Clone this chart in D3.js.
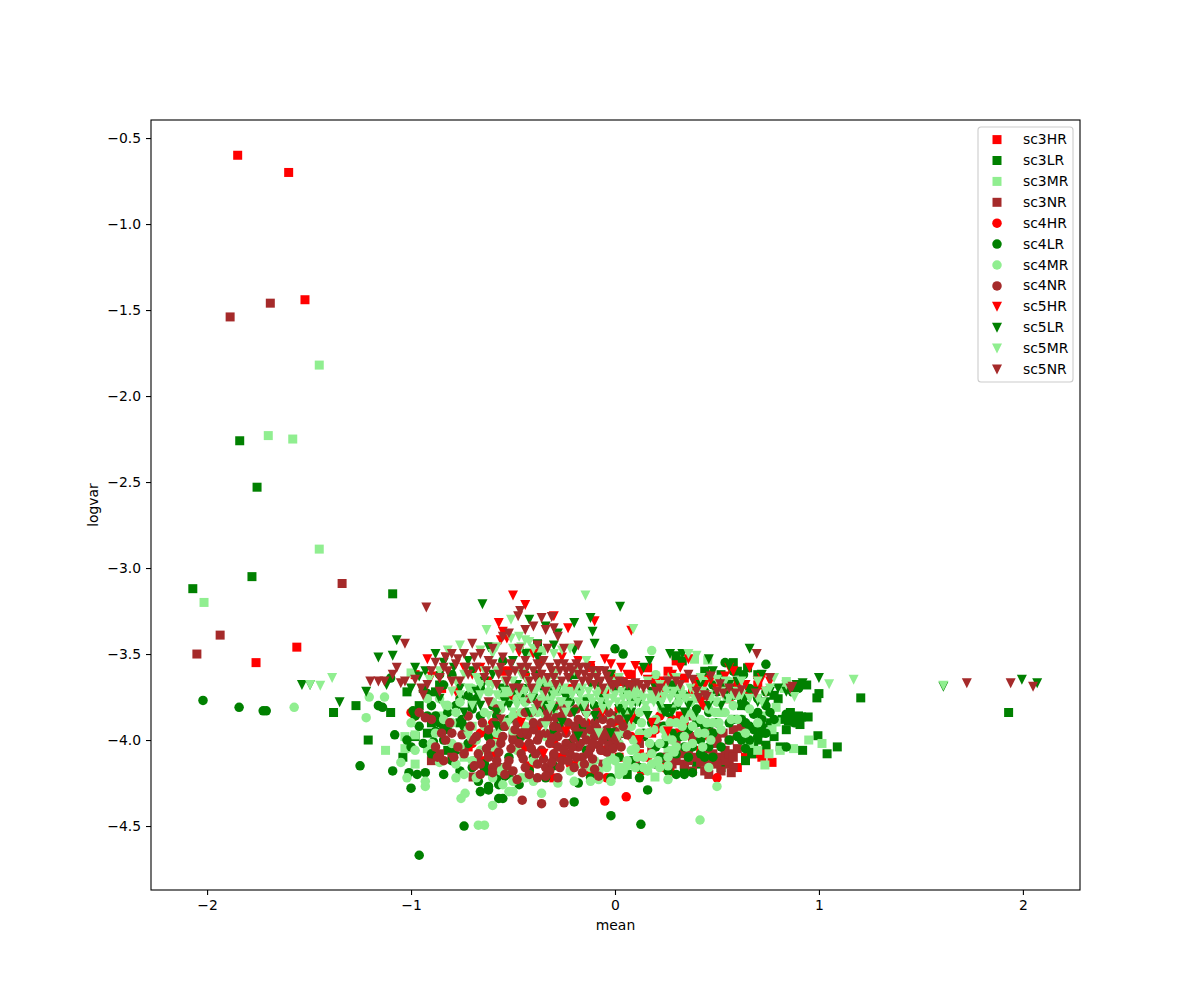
<!DOCTYPE html>
<html>
<head>
<meta charset="utf-8">
<script src="https://cdn.jsdelivr.net/npm/d3@7"></script>
<style>
  body { margin: 0; background: #fff; }
  text { font-family: "DejaVu Sans", sans-serif; }
</style>
</head>
<body>
<script>
// [mean, logvar] pairs
var sc3HR = [[-1.85,-0.60],[-1.60,-0.70],[-1.52,-1.44],[-1.56,-3.46],[-1.76,-3.55],
  [-0.98,-3.62],[-0.85,-3.70],[-0.72,-4.04],[-0.66,-4.12],[-0.55,-3.60],[-0.48,-3.86],[-0.42,-4.15],[-0.38,-3.62],[-0.30,-4.22],[-0.22,-3.70],
  [-0.12,-3.58],[-0.05,-3.72],[0.02,-4.10],[0.08,-3.62],[0.16,-3.58],[0.22,-3.70],[0.27,-4.18],[0.30,-3.54],[0.34,-3.64],[0.38,-3.72],[0.42,-4.06],
  [0.46,-3.62],[0.50,-3.70],[0.55,-4.12],[0.60,-4.16],[0.64,-4.10],[0.68,-4.08],[0.72,-4.10],[0.77,-4.13],[0.74,-4.05],[0.56,-3.76],[0.66,-3.72],[0.12,-4.08],[-0.18,-4.12],[-0.62,-3.94],
  [0.10,-3.68],[0.04,-3.66],[-0.02,-3.62],[0.20,-3.66],[0.26,-3.60],[0.40,-3.68],[0.44,-3.74],[0.60,-3.66],[0.70,-3.68],[0.04,-3.88],[0.18,-3.96],[0.32,-3.86],[-0.26,-4.10],[-0.58,-4.00]];
var sc3LR = [[-1.84,-2.26],[-1.755,-2.53],[-1.78,-3.05],[-2.07,-3.12],[-1.09,-3.15],[1.205,-3.755],[1.93,-3.84],[1.09,-4.04],[1.04,-4.08],[-1.21,-4.00],[-1.27,-3.80],[-1.38,-3.84],[-1.10,-3.84],
  [0.99,-3.755],[1.0,-3.73],[0.915,-3.866],[0.947,-3.866],[0.907,-3.91],[0.88,-3.87],[0.995,-3.975],[0.92,-4.06],[0.30,-3.51],[0.33,-3.54],[0.65,-3.58],[0.58,-3.55],[0.85,-3.89],[0.81,-4.04],[0.74,-4.03],[0.70,-4.00],[0.67,-4.08],[0.90,-3.68],[0.94,-3.68],[0.76,-3.90],[0.78,-3.74],
  [-1.02,-3.72],[-0.96,-3.80],[-0.92,-3.96],[-1.04,-4.10],[-0.86,-3.68],[-0.82,-4.06],[-0.76,-3.90],[-0.70,-3.78],[-0.64,-4.18],[-0.55,-3.92],[-0.52,-4.20],[-0.45,-3.70],[-0.30,-3.95],[-0.20,-3.62],[-0.10,-4.18],[0.0,-3.86],[0.06,-4.20],[0.14,-3.98],[0.24,-4.12],[0.28,-3.70],[0.40,-4.14],[0.46,-3.94],[0.52,-4.16],[0.58,-3.88],[0.62,-3.80],[0.34,-4.17],[-0.38,-3.44],
  [0.72,-3.96],[0.78,-3.98],[0.84,-3.94],[0.90,-3.86],[0.86,-3.84],[0.82,-3.88],[0.68,-4.04],[0.64,-4.12],[0.44,-3.60],[0.52,-3.62],[0.60,-3.60],[0.70,-3.62],[0.80,-3.76],[-0.98,-3.98],[-0.94,-3.70],[-0.90,-3.90],[-0.88,-3.72],[-0.84,-3.94]];
var sc3MR = [[-1.45,-1.82],[-1.70,-2.23],[-1.58,-2.25],[-1.45,-2.89],[-2.015,-3.20],[-1.125,-4.06],[-1.0,-3.61],[-0.98,-3.97],[-0.92,-4.05],[-1.03,-3.98],[-1.03,-4.05],[-0.98,-4.14],
  [0.95,-4.00],[1.015,-4.02],[0.81,-4.06],[0.875,-4.05],[0.755,-4.08],[0.735,-4.145],[0.70,-4.06],[0.79,-3.81],[0.77,-3.94],[0.79,-3.895],[0.84,-3.66],[0.196,-4.215],[0.455,-3.535],[0.39,-3.53],[0.60,-3.95],[0.66,-4.02],[0.55,-3.70],[0.72,-3.86],[0.83,-3.70],[0.62,-3.88],
  [-0.42,-3.49],[-0.36,-3.48],[-0.30,-3.62],[-0.46,-3.58],[-0.70,-3.92],[-0.60,-4.02],[-0.52,-3.76],[-0.86,-3.86],[-0.74,-4.10],[-0.12,-3.96],[0.02,-4.16],[0.12,-3.76],[0.26,-4.06],[0.48,-4.10],[0.52,-3.84]];
var sc3NR = [[-1.69,-1.46],[-1.887,-1.54],[-1.338,-3.09],[-1.936,-3.39],[-2.05,-3.50],[-0.696,-4.215],[-0.9,-4.12],[-0.86,-4.08],[-0.80,-4.10],[-0.74,-4.06],[-0.68,-4.12],[-0.62,-4.08],
  [0.05,-3.96],[0.12,-4.02],[0.18,-4.06],[0.24,-4.10],[0.26,-4.16],[0.30,-4.12],[0.34,-4.14],[0.36,-4.06],[0.38,-4.18],[0.40,-4.10],[0.42,-4.13],[0.44,-4.05],[0.46,-4.12],[0.48,-4.08],[0.50,-4.02],[0.52,-4.10],[0.54,-4.06],[0.56,-4.14],[0.58,-4.16],[0.44,-4.18],[0.34,-3.92],[0.42,-3.96],[0.50,-3.98],[0.56,-4.00],[0.60,-4.05],[0.30,-4.00],[0.22,-3.92],[0.36,-3.86],[0.10,-4.14],[-0.08,-4.20],[-0.30,-4.10],[-0.50,-3.98],[-0.56,-4.16],[0.62,-3.92],
  [0.52,-4.18],[0.54,-4.12],[0.56,-4.08],[0.58,-4.10],[0.57,-4.19],[0.32,-4.08],[0.28,-4.14],[0.36,-4.12],[0.47,-3.96],[0.53,-3.96],[0.58,-3.94],[0.44,-3.90],[0.38,-3.98],[0.32,-3.96],[0.46,-4.20],[0.50,-4.14],[-0.02,-3.86],[-0.06,-4.14]];
var sc4HR = [[-0.05,-4.355],[0.055,-4.33],[-1.0,-3.84],[-0.98,-3.86],[-0.7,-4.02],[-0.58,-4.08],[-0.50,-3.74],[-0.44,-4.04],[-0.38,-3.92],[-0.30,-4.02],[-0.22,-4.14],[-0.14,-3.90],[-0.06,-4.06],[0.02,-3.82],[0.08,-3.98],[0.16,-4.10],[0.22,-3.86],[0.30,-3.96],[0.34,-3.92],[0.38,-4.02],[0.44,-3.80],[0.50,-4.22],[0.46,-3.98],[0.24,-4.16],[-0.12,-4.20],
  [-0.04,-4.22],[0.00,-3.90],[0.10,-3.86],[0.20,-3.94],[0.28,-3.88],[0.32,-3.90],[0.36,-3.94],[0.13,-4.18],[-0.60,-3.90],[-0.66,-3.96]];
var sc4LR = [[-2.02,-3.77],[-1.843,-3.81],[-1.725,-3.83],[-1.71,-3.83],[-1.25,-4.15],[-0.96,-4.67],[-0.74,-4.50],[-0.02,-4.44],[0.127,-4.49],[-1.08,-3.97],[-1.1,-3.64],[-1.16,-3.80],[-1.14,-3.81],[-1.09,-4.18],[-1.0,-4.28],[-1.01,-4.19],[-0.97,-4.2],[-0.93,-4.19],[-0.89,-4.01],[-0.92,-3.73],[-0.99,-3.83],[-0.98,-3.86],[-1.02,-4.0],[-1.0,-4.04],
  [-0.66,-4.30],[-0.67,-4.24],[-0.62,-4.27],[-0.62,-4.29],[-0.57,-4.34],[-0.55,-4.34],[-0.54,-4.21],[-0.57,-4.26],[-0.60,-4.20],[-0.47,-4.26],[-0.20,-4.36],[-0.18,-4.25],[-0.12,-4.22],[-0.02,-4.22],[0.12,-4.22],[0.16,-4.29],[-0.55,-3.54],[0.0,-3.47],[0.04,-3.50],[0.54,-3.55],[0.74,-3.56],[0.63,-3.62],[0.58,-3.60],
  [-0.88,-3.95],[-0.82,-3.84],[-0.80,-4.12],[-0.75,-3.88],[-0.72,-4.02],[-0.68,-3.76],[-0.64,-4.14],[-0.58,-3.86],[-0.52,-4.10],[-0.48,-3.72],[-0.42,-4.18],[-0.36,-3.82],[-0.30,-4.15],[-0.22,-3.78],[-0.14,-4.06],[-0.08,-3.86],[0.02,-4.10],[0.08,-3.76],[0.14,-3.96],[0.20,-4.14],[0.26,-3.84],[0.30,-4.20],[0.34,-4.20],[0.32,-3.98],[0.38,-4.19],[0.36,-4.10],[0.40,-3.90],[0.44,-4.10],[0.48,-3.96],[0.52,-4.04],[0.56,-3.90],[0.60,-3.98],[0.64,-4.05],[0.68,-3.85],[0.74,-3.72],[0.70,-3.76],[0.66,-3.70],[0.62,-3.76],[0.72,-3.92],[0.66,-3.92],[0.78,-3.88],[0.84,-3.85],[0.88,-3.90],[0.84,-4.04],[0.90,-3.70],[0.87,-3.72],[0.50,-3.72],[0.54,-3.68],[0.58,-3.74],[0.46,-3.84],[0.56,-4.00],[0.62,-3.88],[0.42,-4.0],[0.30,-3.80],[0.24,-4.02],[0.18,-3.90],
  [0.20,-4.04],[0.22,-4.10],[0.24,-3.92],[0.26,-4.18],[0.28,-3.96],[0.30,-4.08],[0.34,-4.04],[0.36,-3.94],[0.38,-4.04],[0.42,-4.08],[0.44,-3.92],[0.46,-4.04],[0.48,-4.10],[0.50,-3.90],[0.62,-4.00],[0.64,-3.90],[0.66,-4.00],[0.68,-3.94],[0.70,-3.98],[0.72,-3.88],[0.74,-3.96],[0.76,-3.84],[0.74,-3.80],[0.70,-3.84],[0.64,-3.80],[0.58,-3.70],[0.52,-3.66],[0.48,-3.68],[0.44,-3.72],[0.40,-3.82],[0.08,-4.12],[0.10,-3.88],[0.12,-4.16],[0.04,-3.96],[-0.04,-4.00],[-0.10,-3.80],[-0.16,-3.92],[-0.22,-4.02],[-0.28,-3.90],[-0.34,-4.22],[-0.40,-4.10],[-0.46,-3.98],[-0.52,-3.88],[-0.58,-4.22],[-0.62,-3.98],[-0.66,-3.86],[-0.70,-4.16],[-0.74,-3.92],[-0.78,-4.06],[-0.82,-3.92],[-0.84,-4.00],[-0.86,-3.90],[-0.88,-3.86],[-0.90,-4.08],[-0.92,-3.86],[-0.94,-4.02],[-0.96,-3.92],[-0.84,-4.20],[-0.76,-4.18],[-0.70,-3.82],[-0.76,-3.76],[-0.84,-3.68],[-0.80,-3.62],[-0.66,-3.70],[-0.60,-3.80],[-0.54,-3.70],[-0.44,-3.62],[-0.86,-3.62],[-0.78,-3.80],[-0.72,-3.74],[-0.90,-3.80],[0.06,-3.72],[0.28,-3.68],[0.34,-3.74]];
var sc4MR = [[-1.573,-3.81],[-1.22,-3.87],[-1.205,-3.75],[0.417,-4.465],[-0.67,-4.495],[-0.64,-4.495],[-0.60,-4.38],[-0.755,-4.34],[-0.735,-4.31],[-1.05,-4.13],[-1.02,-4.22],[-0.93,-4.27],[-0.93,-4.24],[-1.13,-3.75],[-0.86,-4.13],[-1.0,-3.90],[-0.98,-4.06],[0.50,-4.27],[0.18,-3.48],[-0.12,-4.24],[-0.2,-4.24],[-0.28,-4.25],[-0.44,-4.22],[-0.40,-4.24],[-0.36,-4.31],[-0.55,-4.26],[-0.52,-4.30],[-0.50,-4.30],[0.26,-4.23],[-0.02,-4.24],[-0.08,-4.23],
  [-0.92,-3.76],[-0.84,-3.88],[-0.80,-4.02],[-0.76,-3.78],[-0.72,-3.94],[-0.70,-4.12],[-0.66,-3.66],[-0.64,-3.84],[-0.60,-4.04],[-0.56,-3.74],[-0.54,-4.16],[-0.50,-3.86],[-0.46,-3.70],[-0.44,-3.92],[-0.40,-4.12],[-0.36,-3.76],[-0.32,-3.68],[-0.26,-3.88],[-0.22,-4.18],[-0.16,-4.14],[-0.10,-4.12],[-0.04,-4.16],[-0.02,-3.88],[0.02,-4.02],[0.04,-3.80],[0.06,-4.12],[0.08,-3.92],[0.10,-4.05],[0.12,-3.84],[0.14,-4.16],[0.16,-3.96],[0.18,-4.08],[0.18,-3.76],[0.20,-3.88],[0.22,-4.02],[0.24,-3.68],[0.24,-3.94],[0.26,-4.10],[0.28,-3.82],[0.30,-3.90],[0.30,-4.04],[0.32,-3.70],[0.34,-3.98],[0.36,-3.84],[0.38,-3.92],[0.40,-3.76],[0.42,-3.88],[0.44,-3.66],[0.46,-3.82],[0.48,-3.90],[0.50,-3.78],[0.52,-3.94],[0.54,-3.84],[0.56,-3.66],[0.58,-3.80],[0.60,-3.88],[0.28,-3.62],[0.20,-3.62],[0.10,-3.70],[0.0,-3.66],[-0.06,-3.78],[-0.14,-3.76],[0.04,-4.18],[0.16,-4.18],[0.12,-3.96],[0.08,-4.06],[0.02,-3.94],[-0.02,-4.10],[0.28,-4.0],[0.34,-3.88],[0.38,-4.02],[0.44,-3.96],[0.66,-3.82],[0.70,-3.90],[0.64,-3.96],[0.60,-3.74],[0.46,-4.16],[-0.78,-4.14],[-0.82,-3.80],[-0.68,-4.22],[-0.58,-3.96],[-0.48,-4.06],[-0.34,-3.98],
  [0.03,-3.86],[0.05,-3.96],[0.07,-3.84],[0.09,-4.00],[0.11,-4.10],[0.13,-3.90],[0.15,-3.82],[0.17,-4.02],[0.19,-3.94],[0.21,-4.12],[0.23,-3.82],[0.25,-3.98],[0.27,-3.90],[0.29,-4.07],[0.31,-3.78],[0.33,-3.92],[0.35,-4.04],[0.37,-3.78],[0.39,-3.86],[0.41,-3.96],[0.43,-4.04],[0.45,-3.90],[0.47,-4.00],[0.49,-3.84],[0.51,-3.90],[0.55,-3.76],[0.57,-3.88],[0.06,-4.15],[0.10,-4.16],[0.14,-4.10],[0.18,-4.14],[0.22,-4.16],[0.26,-4.15],[-0.04,-4.13],[-0.08,-4.18],[-0.12,-4.16],[0.0,-4.12],[0.02,-4.20],[-0.60,-3.78],[-0.62,-3.72],[-0.56,-3.82],[-0.54,-3.90],[-0.52,-3.72],[-0.50,-3.95],[-0.48,-3.76],[-0.46,-3.84],[-0.44,-3.78],[-0.42,-3.86],[-0.40,-3.72],[-0.38,-3.84],[-0.36,-3.66],[-0.34,-3.86],[-0.32,-3.76],[-0.30,-3.84],[-0.28,-3.72],[-0.26,-3.80],[-0.24,-3.72],[-0.70,-3.70],[-0.72,-3.86],[-0.76,-4.04],[-0.78,-3.84],[-0.80,-3.90],[-0.86,-3.76],[-0.88,-3.96],[-0.90,-4.02],[-0.64,-3.92],[-0.66,-4.06],[-0.68,-4.00],[-0.74,-4.20],[-0.78,-4.22],[-0.60,-4.22],[-0.56,-4.18],[-0.50,-4.24],[-0.46,-4.22]];
var sc4NR = [[-0.455,-4.35],[-0.36,-4.37],[-0.25,-4.365],[-0.90,-3.88],[-0.88,-4.04],[-0.84,-4.12],[-0.80,-3.96],[-0.74,-4.08],[-0.72,-3.86],[-0.68,-3.98],[-0.66,-4.14],[-0.62,-3.94],[-0.62,-4.10],[-0.60,-4.16],[-0.58,-3.82],[-0.56,-4.02],[-0.54,-3.92],[-0.52,-4.12],[-0.50,-4.18],[-0.48,-3.90],[-0.46,-3.96],[-0.46,-4.08],[-0.44,-3.84],[-0.42,-4.02],[-0.40,-3.94],[-0.38,-4.00],[-0.38,-4.14],[-0.36,-3.90],[-0.36,-4.06],[-0.34,-3.96],[-0.34,-4.16],[-0.32,-4.02],[-0.30,-3.92],[-0.30,-4.08],[-0.28,-3.98],[-0.28,-4.04],[-0.26,-3.86],[-0.26,-4.12],[-0.24,-3.96],[-0.24,-4.02],[-0.22,-4.08],[-0.20,-3.92],[-0.20,-3.99],[-0.18,-4.04],[-0.18,-3.88],[-0.16,-3.96],[-0.16,-4.10],[-0.14,-4.00],[-0.14,-3.84],[-0.12,-3.94],[-0.12,-4.05],[-0.10,-3.90],[-0.10,-3.98],[-0.08,-4.03],[-0.08,-3.96],[-0.06,-3.88],[-0.06,-4.00],[-0.04,-3.94],[-0.04,-4.07],[-0.02,-3.98],[-0.02,-3.90],[0.0,-3.95],[0.0,-4.02],[0.02,-3.88],[-0.22,-3.84],[-0.32,-4.18],[-0.20,-4.16],[-0.08,-4.21],[-0.58,-4.12],[-0.44,-4.16],[-0.28,-4.22],[-0.42,-3.76],[-0.50,-4.00],[-0.70,-4.00],[-0.34,-3.80],[-0.96,-3.84],
  [-0.40,-3.90],[-0.37,-3.97],[-0.33,-3.88],[-0.31,-3.99],[-0.29,-3.87],[-0.27,-3.93],[-0.25,-4.06],[-0.23,-3.90],[-0.21,-4.04],[-0.19,-3.95],[-0.17,-4.02],[-0.15,-3.90],[-0.13,-4.08],[-0.11,-4.02],[-0.09,-3.93],[-0.07,-4.06],[-0.05,-3.97],[-0.03,-4.03],[-0.01,-4.05],[0.01,-3.98],[-0.39,-4.08],[-0.35,-4.11],[-0.31,-4.13],[-0.27,-4.16],[-0.23,-4.12],[-0.19,-4.10],[-0.15,-4.14],[-0.11,-4.11],[-0.41,-4.05],[-0.43,-3.97],[-0.45,-4.11],[-0.47,-4.02],[-0.49,-3.94],[-0.51,-4.05],[-0.53,-4.15],[-0.55,-3.98],[-0.57,-4.07],[-0.59,-3.90],[-0.61,-4.02],[-0.63,-4.05],[-0.65,-3.90],[-0.67,-4.08],[-0.69,-4.15],[-0.71,-3.92],[-0.75,-3.97],[-0.77,-4.04],[-0.79,-4.10],[-0.81,-3.90],[-0.83,-4.00],[-0.85,-3.96],[-0.87,-4.10],[-0.93,-3.87],[-0.41,-3.84],[-0.37,-3.78],[-0.33,-3.84],[-0.29,-3.80],[-0.25,-3.82],[-0.19,-3.82],[-0.15,-3.80],[-0.09,-3.84],[-0.03,-3.84],[-0.60,-4.19],[-0.54,-4.20],[-0.48,-4.23],[-0.42,-4.20],[-0.38,-4.22],[-0.34,-4.21],[-0.16,-4.19],[-0.66,-4.20],[-0.10,-4.17],[0.04,-3.92],[0.06,-3.97],[0.03,-4.04]];
var sc5HR = [[-0.50,-3.16],[-0.44,-3.215],[0.08,-3.365],[-0.57,-3.32],[-0.55,-3.37],[-0.54,-3.39],[-0.53,-3.41],[-0.30,-3.28],[-0.10,-3.31],[-0.23,-3.35],[-0.92,-3.53],[-0.83,-3.52],[-0.70,-3.62],[-0.66,-3.58],[-0.62,-3.66],[-0.47,-3.49],[-0.44,-3.64],[-0.36,-3.55],[-0.30,-3.60],[-0.20,-3.47],[-0.12,-3.57],[-0.05,-3.53],[0.0,-3.68],[0.06,-3.62],[0.10,-3.57],[0.16,-3.65],[0.22,-3.75],[0.28,-3.62],[0.36,-3.53],[0.44,-3.68],[0.50,-3.70],[0.54,-3.63],[0.58,-3.60],[0.66,-3.58],[0.72,-3.64],[0.70,-3.66],[0.74,-3.72],[0.42,-3.78],[0.60,-3.70],[-0.90,-3.63],[-0.86,-3.64],[-0.78,-3.72],[-0.46,-3.90],[-0.35,-4.08],[-0.24,-3.95],[0.12,-4.00],
  [-0.08,-3.60],[-0.02,-3.56],[0.03,-3.58],[0.13,-3.60],[0.19,-3.68],[0.24,-3.66],[0.32,-3.58],[0.40,-3.66],[0.47,-3.65],[0.52,-3.72],[0.56,-3.58],[0.64,-3.68],[0.76,-3.66],[-0.18,-3.54],[-0.26,-3.52],[-0.40,-3.50],[-0.56,-3.42],[-0.52,-3.60],[-0.74,-3.58],[-0.80,-3.66],[0.08,-3.88],[0.26,-3.95],[0.18,-3.90],[-0.06,-3.84]];
var sc5LR = [[-1.535,-3.68],[-1.495,-3.68],[2.07,-3.67],[1.995,-3.65],[1.61,-3.69],[-0.65,-3.21],[0.025,-3.225],[-1.07,-3.42],[-1.16,-3.52],[-1.09,-3.51],[-1.22,-3.72],[-1.35,-3.78],[-0.93,-3.60],[-0.96,-3.63],[-1.12,-3.68],[-0.79,-3.58],
  [-0.42,-3.30],[-0.34,-3.34],[-0.28,-3.38],[-0.20,-3.32],[-0.12,-3.29],[-0.11,-3.37],[0.27,-3.50],[0.66,-3.47],[0.92,-3.67],[0.89,-3.68],[0.86,-3.72],[1.0,-3.64],[0.74,-3.78],[0.84,-3.72],[0.46,-3.53],[0.33,-3.50],[0.17,-3.54],[0.56,-3.57],
  [-0.88,-3.50],[-0.80,-3.65],[-0.72,-3.54],[-0.68,-3.72],[-0.60,-3.62],[-0.54,-3.78],[-0.48,-3.68],[-0.42,-3.84],[-0.38,-3.62],[-0.32,-3.72],[-0.26,-3.90],[-0.22,-3.64],[-0.16,-3.82],[-0.12,-3.68],[-0.06,-3.76],[-0.02,-3.62],[0.02,-3.82],[0.06,-3.70],[0.12,-3.78],[0.14,-3.58],[0.20,-3.70],[0.26,-3.82],[0.30,-3.74],[0.36,-3.80],[0.42,-3.68],[0.48,-3.60],[0.54,-3.74],[0.60,-3.66],[0.68,-3.72],[0.72,-3.62],[-0.02,-3.96],[0.06,-3.88],[-0.18,-3.98],[-0.58,-3.92],[-0.50,-3.54],[-0.30,-3.45],[-0.62,-3.46],[-0.94,-3.72],
  [-0.86,-3.76],[-0.84,-3.55],[-0.76,-3.70],[-0.74,-3.84],[-0.70,-3.60],[-0.66,-3.80],[-0.64,-3.66],[-0.58,-3.84],[-0.56,-3.70],[-0.52,-3.80],[-0.46,-3.76],[-0.44,-3.72],[-0.40,-3.76],[-0.36,-3.70],[-0.34,-3.80],[-0.30,-3.82],[-0.28,-3.70],[-0.24,-3.76],[-0.20,-3.84],[-0.18,-3.72],[-0.14,-3.78],[-0.10,-3.86],[-0.08,-3.68],[-0.04,-3.80],[0.0,-3.72],[0.04,-3.84],[0.08,-3.84],[0.10,-3.78],[0.16,-3.86],[0.18,-3.72],[0.22,-3.80],[0.24,-3.84],[0.28,-3.84],[0.34,-3.84],[0.40,-3.84],[0.46,-3.80],[0.52,-3.80],[0.56,-3.68],[0.64,-3.76],[0.70,-3.78],[-1.0,-3.70],[-0.98,-3.58],[0.80,-3.70],[0.76,-3.72],[-0.10,-3.44],[-0.20,-3.48],[-0.44,-3.50],[-0.38,-3.52]];
var sc5MR = [[-1.387,-3.64],[-1.445,-3.685],[-1.495,-3.68],[1.61,-3.685],[1.17,-3.65],[1.05,-3.675],[-0.145,-3.16],[0.09,-3.355],[-0.63,-3.36],[-0.51,-3.30],[-0.47,-3.40],[-0.42,-3.43],[-0.51,-3.41],[-0.76,-3.45],[-0.60,-3.50],[-0.82,-3.48],[-0.91,-3.65],[-0.86,-3.60],[-0.30,-3.50],[0.36,-3.50],[0.40,-3.51],[0.88,-3.75],[0.70,-3.66],[0.78,-3.64],[0.84,-3.68],[0.62,-3.74],
  [-0.80,-3.72],[-0.74,-3.62],[-0.70,-3.80],[-0.66,-3.68],[-0.62,-3.86],[-0.58,-3.74],[-0.54,-3.66],[-0.52,-3.90],[-0.48,-3.80],[-0.46,-3.62],[-0.44,-3.72],[-0.40,-3.84],[-0.38,-3.70],[-0.36,-3.78],[-0.34,-3.66],[-0.32,-3.82],[-0.30,-3.74],[-0.28,-3.68],[-0.26,-3.78],[-0.24,-3.84],[-0.22,-3.72],[-0.20,-3.60],[-0.18,-3.78],[-0.16,-3.70],[-0.14,-3.86],[-0.12,-3.76],[-0.10,-3.62],[-0.08,-3.72],[-0.06,-3.82],[-0.04,-3.76],[-0.02,-3.70],[0.0,-3.74],[0.02,-3.64],[0.04,-3.76],[0.06,-3.74],[0.08,-3.80],[0.10,-3.74],[0.14,-3.76],[0.16,-3.66],[0.18,-3.74],[0.20,-3.76],[0.22,-3.68],[0.24,-3.75],[0.28,-3.74],[0.30,-3.64],[0.34,-3.76],[0.40,-3.74],[0.42,-3.64],[0.46,-3.74],[0.50,-3.78],[0.54,-3.66],[0.58,-3.74],[0.62,-3.66],[0.74,-3.72],[-0.08,-3.96],[0.02,-3.98],[-0.34,-3.92],[-0.58,-3.60],[-0.30,-3.60],[-0.72,-3.98],
  [0.01,-3.78],[0.03,-3.72],[0.05,-3.80],[0.07,-3.76],[0.09,-3.74],[0.11,-3.78],[0.13,-3.74],[0.15,-3.80],[0.17,-3.76],[0.19,-3.78],[0.21,-3.74],[0.23,-3.78],[0.25,-3.72],[0.27,-3.76],[0.29,-3.72],[0.31,-3.76],[0.33,-3.74],[0.35,-3.76],[0.37,-3.70],[0.39,-3.76],[0.43,-3.72],[0.47,-3.76],[0.52,-3.72],[0.56,-3.76],[0.60,-3.72],[0.66,-3.76],[0.70,-3.76],[0.72,-3.78],[0.76,-3.70],[0.50,-3.65],
  [-0.66,-3.74],[-0.64,-3.60],[-0.60,-3.68],[-0.56,-3.80],[-0.54,-3.72],[-0.50,-3.66],[-0.50,-3.84],[-0.47,-3.74],[-0.45,-3.78],[-0.43,-3.66],[-0.41,-3.76],[-0.39,-3.82],[-0.37,-3.68],[-0.35,-3.74],[-0.33,-3.70],[-0.31,-3.80],[-0.29,-3.72],[-0.27,-3.78],[-0.25,-3.70],[-0.23,-3.80],[-0.21,-3.74],[-0.19,-3.70],[-0.17,-3.74],[-0.15,-3.80],[-0.13,-3.72],[-0.11,-3.78],[-0.09,-3.74],[-0.07,-3.78],[-0.05,-3.72],[-0.03,-3.80],[-0.01,-3.76],[-0.62,-3.68],[-0.68,-3.64],[-0.72,-3.70],[-0.76,-3.74],[-0.78,-3.66],[-0.84,-3.80],[-0.44,-3.42],[-0.46,-3.46],[-0.40,-3.47],[-0.50,-3.47],[-0.58,-3.46],[-0.66,-3.48],[-0.26,-3.48],[-0.22,-3.47],[-0.14,-3.54]];
var sc5NR = [[-0.925,-3.23],[1.725,-3.67],[1.94,-3.67],[2.05,-3.69],[0.695,-3.50],[-0.465,-3.25],[-0.31,-3.285],[-0.475,-3.28],[-0.40,-3.34],[-0.34,-3.36],[-0.30,-3.35],[-0.36,-3.29],[-1.03,-3.44],[-1.07,-3.58],[-1.16,-3.66],[-1.2,-3.66],[-1.03,-3.66],[-1.05,-3.67],[-1.09,-3.62],[-1.13,-3.66],
  [-0.98,-3.65],[-0.94,-3.74],[-0.92,-3.68],[-0.88,-3.55],[-0.86,-3.72],[-0.83,-3.52],[-0.82,-3.60],[-0.78,-3.56],[-0.76,-3.66],[-0.74,-3.50],[-0.72,-3.62],[-0.70,-3.44],[-0.68,-3.58],[-0.64,-3.64],[-0.62,-3.54],[-0.58,-3.68],[-0.56,-3.58],[-0.52,-3.62],[-0.50,-3.70],[-0.46,-3.58],[-0.44,-3.54],[-0.42,-3.66],[-0.40,-3.60],[-0.38,-3.56],[-0.36,-3.62],[-0.34,-3.72],[-0.32,-3.58],[-0.30,-3.64],[-0.28,-3.56],[-0.26,-3.66],[-0.24,-3.60],[-0.22,-3.58],[-0.20,-3.68],[-0.18,-3.62],[-0.16,-3.66],[-0.14,-3.58],[-0.12,-3.64],[-0.10,-3.68],[-0.08,-3.60],[-0.06,-3.70],[-0.04,-3.63],[-0.02,-3.68],[0.02,-3.66],[0.06,-3.68],[0.10,-3.67],[0.16,-3.68],[0.22,-3.70],[0.32,-3.68],[0.36,-3.62],[0.40,-3.72],[0.44,-3.74],[0.47,-3.63],[0.50,-3.72],[0.56,-3.70],[0.62,-3.71],[0.76,-3.64],[0.86,-3.70],[-0.44,-3.96],[-0.56,-3.88],[-0.62,-3.78],
  [-0.95,-3.70],[-0.90,-3.60],[-0.86,-3.64],[-0.84,-3.58],[-0.80,-3.66],[-0.77,-3.53],[-0.73,-3.58],[-0.69,-3.52],[-0.66,-3.50],[-0.63,-3.60],[-0.60,-3.56],[-0.57,-3.62],[-0.55,-3.52],[-0.53,-3.66],[-0.51,-3.56],[-0.49,-3.60],[-0.47,-3.70],[-0.45,-3.62],[-0.43,-3.58],[-0.41,-3.70],[-0.39,-3.64],[-0.37,-3.58],[-0.35,-3.54],[-0.33,-3.64],[-0.31,-3.60],[-0.29,-3.68],[-0.27,-3.60],[-0.25,-3.56],[-0.23,-3.64],[-0.21,-3.60],[-0.19,-3.56],[-0.17,-3.58],[-0.15,-3.62],[-0.13,-3.66],[-0.11,-3.60],[-0.09,-3.64],[-0.07,-3.66],[-0.05,-3.60],[-0.03,-3.66],[-0.01,-3.69],[0.01,-3.68],[0.04,-3.67],[0.08,-3.69],[0.12,-3.68],[0.14,-3.70],[0.20,-3.72],[0.26,-3.66],[0.30,-3.66],[-0.55,-3.40],[-0.52,-3.38],[-0.44,-3.36],[-0.38,-3.45],[-0.28,-3.40],[-0.60,-3.47],[-0.47,-3.47],[-0.80,-3.50],[-0.33,-3.47],[-0.25,-3.47],[-0.18,-3.45],[0.41,-3.755],[0.45,-3.75],[0.53,-3.73],[0.59,-3.73],[0.69,-3.73],[0.87,-3.69],[0.38,-3.65],[0.515,-3.675],[-0.38,-3.80]];

var labels = ["sc3HR","sc3LR","sc3MR","sc3NR","sc4HR","sc4LR","sc4MR","sc4NR","sc5HR","sc5LR","sc5MR","sc5NR"];
var values = [sc3HR, sc3LR, sc3MR, sc3NR, sc4HR, sc4LR, sc4MR, sc4NR, sc5HR, sc5LR, sc5MR, sc5NR];
var colors = ["red","green","lightgreen","brown"];
var xTicks = [-2, -1, 0, 1, 2];
var yTicks = [-4.5, -4, -3.5, -3, -2.5, -2, -1.5, -1, -0.5];

var margin = {top: 120, right: 120, bottom: 110, left: 151}
  , width = 1200 - margin.left - margin.right
  , height = 1000 - margin.top - margin.bottom;

var xScale = d3.scaleLinear().domain([-2.275, 2.28]).range([0, width]);
var yScale = d3.scaleLinear().domain([-4.872, -0.395]).range([height, 0]);

var svg = d3.select("body").append("svg")
  .attr("width", 1200)
  .attr("height", 1000)
  .style("display", "block")
  .append("g")
  .attr("transform", "translate(" + margin.left + "," + margin.top + ")");

// matplotlib's 'v' marker, the one shape d3 does not have
var triangleDown = {
  draw: function(context, size) {
    var s = Math.sqrt(size) / 2;
    context.moveTo(-s, -s);
    context.lineTo(s, -s);
    context.lineTo(0, s);
    context.closePath();
  }
};
var shapes = [
  d3.symbol().type(d3.symbolSquare).size(81)(),
  d3.symbol().type(d3.symbolCircle).size(71)(),
  d3.symbol().type(triangleDown).size(100)()
];

var minus = function(s) { return String(s).replace("-", "\u2212"); };

// Draw the series in legend order so the overlaps stack like the original
labels.forEach(function(name, i) {
  svg.append("g")
    .attr("class", name)
    .selectAll("path")
    .data(values[i])
    .enter()
    .append("path")
    .attr("d", shapes[Math.floor(i / 4)])
    .attr("fill", colors[i % 4])
    .attr("transform", function(d) { return "translate(" + xScale(d[0]) + "," + yScale(d[1]) + ")"; });
});

// Axes
var xAxis = d3.axisBottom(xScale).tickValues(xTicks).tickSize(5).tickPadding(5)
  .tickFormat(function(d) { return minus(d); });
var yAxis = d3.axisLeft(yScale).tickValues(yTicks).tickSize(5).tickPadding(5)
  .tickFormat(function(d) { return minus(d3.format(".1f")(d)); });

svg.append("g").attr("transform", "translate(0," + height + ")").call(xAxis);
svg.append("g").call(yAxis);
svg.selectAll(".tick text").attr("font-size", 13.9).attr("fill", "#000").style("font-family", '"DejaVu Sans"');
svg.selectAll(".tick line").attr("stroke", "#000").attr("stroke-width", 1.1);
svg.selectAll(".domain").remove();

// Frame
svg.append("rect")
  .attr("width", width)
  .attr("height", height)
  .attr("fill", "none")
  .attr("stroke", "#000")
  .attr("stroke-width", 1.1);

// Axis titles
svg.append("text")
  .attr("x", width / 2)
  .attr("y", height + 40)
  .attr("text-anchor", "middle")
  .attr("font-size", 13.9)
  .text("mean");
svg.append("text")
  .attr("transform", "translate(-53," + (height / 2) + ") rotate(-90)")
  .attr("text-anchor", "middle")
  .attr("font-size", 13.9)
  .text("logvar");

// Legend
var legend = svg.append("g").attr("transform", "translate(" + (978 - margin.left) + "," + (127 - margin.top) + ")");
legend.append("rect")
  .attr("width", 95)
  .attr("height", 255)
  .attr("rx", 3)
  .attr("fill", "#fff")
  .attr("fill-opacity", 0.8)
  .attr("stroke", "#ccc")
  .attr("stroke-width", 1.1);

var rows = legend.selectAll(".row")
  .data(labels)
  .enter()
  .append("g")
  .attr("class", "row")
  .attr("transform", function(d, i) { return "translate(0," + (12.6 + i * 20.9) + ")"; });
rows.append("path")
  .attr("d", function(d, i) { return shapes[Math.floor(i / 4)]; })
  .attr("fill", function(d, i) { return colors[i % 4]; })
  .attr("transform", "translate(19,0)");
rows.append("text")
  .attr("x", 45)
  .attr("y", 4.5)
  .attr("font-size", 13.9)
  .text(function(d) { return d; });
</script>
</body>
</html>
